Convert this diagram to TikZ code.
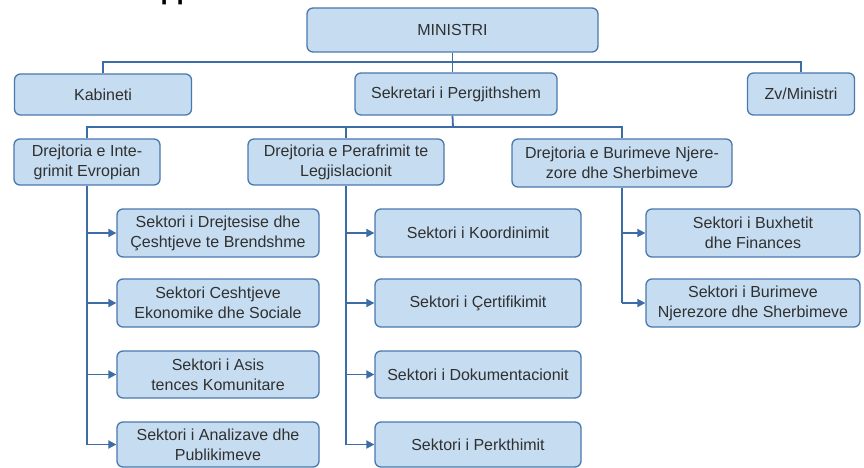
\documentclass[tikz,border=0pt]{standalone}
\usepackage{fontspec}
\setmainfont{Liberation Sans}
\usetikzlibrary{arrows.meta}
\definecolor{boxfill}{HTML}{C6DDF1}
\definecolor{boxline}{HTML}{4A78AE}
\definecolor{conncol}{HTML}{3D6DA6}
\definecolor{txt}{HTML}{303030}
\begin{document}
\begin{tikzpicture}[x=1pt,y=-1pt,
  box/.style={draw=boxline, line width=1.3pt, fill=boxfill, rounded corners=6pt,
    align=center, text=txt, font=\fontsize{16}{20}\selectfont, inner sep=0pt},
  conn/.style={draw=conncol, line width=1.8pt},
  arr/.style={conn, -{Triangle[length=8pt,width=8pt]}}]
\useasboundingbox[fill=white] (0,0) rectangle (864,468);

\node[inner sep=0pt, anchor=base west, font=\bfseries\fontsize{26}{26}\selectfont] (hdr) at (160.5,0) {pp};

% level 0 / 1
\node[box, minimum width=291pt, minimum height=44pt] (min) at (452.5,30) {MINISTRI};
\node[box, minimum width=177pt, minimum height=41pt] (kab) at (103,94.5) {Kabineti};
\node[box, minimum width=202pt, minimum height=42pt] (sek) at (456,94) {Sekretari i Pergjithshem};
\node[box, minimum width=107pt, minimum height=42pt] (zv) at (801,94) {Zv/Ministri};

% level 2
\node[box, minimum width=146pt, minimum height=46pt] (d1) at (87,162) {Drejtoria e Inte-\\grimit Evropian};
\node[box, minimum width=196pt, minimum height=46pt] (d2) at (346,162) {Drejtoria e Perafrimit te\\Legjislacionit};
\node[box, minimum width=220pt, minimum height=48pt] (d3) at (622,163) {Drejtoria e Burimeve Njere-\\zore dhe Sherbimeve};

% level 3, column 1
\node[box, minimum width=202pt, minimum height=48pt] (s11) at (218,233) {Sektori i Drejtesise dhe\\Çeshtjeve te Brendshme};
\node[box, minimum width=202pt, minimum height=48pt] (s12) at (218,303) {Sektori Ceshtjeve\\Ekonomike dhe Sociale};
\node[box, minimum width=202pt, minimum height=47pt] (s13) at (218,374.5) {Sektori i Asis\\tences Komunitare};
\node[box, minimum width=202pt, minimum height=45pt] (s14) at (218,444.5) {Sektori i Analizave dhe\\Publikimeve};

% column 2
\node[box, minimum width=206pt, minimum height=48pt] (s21) at (478,233) {Sektori i Koordinimit};
\node[box, minimum width=206pt, minimum height=48pt] (s22) at (478,303) {Sektori i Çertifikimit};
\node[box, minimum width=206pt, minimum height=47pt] (s23) at (478,374.5) {Sektori i Dokumentacionit};
\node[box, minimum width=206pt, minimum height=45pt] (s24) at (478,444.5) {Sektori i Perkthimit};

% column 3
\node[box, minimum width=214pt, minimum height=48pt] (s31) at (753,233) {Sektori i Buxhetit\\dhe Finances};
\node[box, minimum width=214pt, minimum height=48pt] (s32) at (753,303) {Sektori i Burimeve\\Njerezore dhe Sherbimeve};

% connectors
\coordinate (top) at (453,62);
\coordinate (mid) at (453,127);
\draw[conn] (min.south) -- (min.south |- sek.north);
\draw[conn] (kab.north) |- (top) -| (zv.north);
\draw[conn] (min.south |- sek.south) -- (mid);
\draw[conn] (d1.north) |- (mid) -| (d3.north);
\draw[conn] (d2.north) -- (d2.north |- mid);

\draw[conn] (d1.south) -- (d1.south |- s14.west);
\foreach \s in {s11,s12,s13,s14} \draw[arr] (d1.south |- \s.west) -- (\s.west);
\draw[conn] (d2.south) -- (d2.south |- s24.west);
\foreach \s in {s21,s22,s23,s24} \draw[arr] (d2.south |- \s.west) -- (\s.west);
\draw[conn] (d3.south) -- (d3.south |- s32.west);
\foreach \s in {s31,s32} \draw[arr] (d3.south |- \s.west) -- (\s.west);
\end{tikzpicture}
\end{document}
